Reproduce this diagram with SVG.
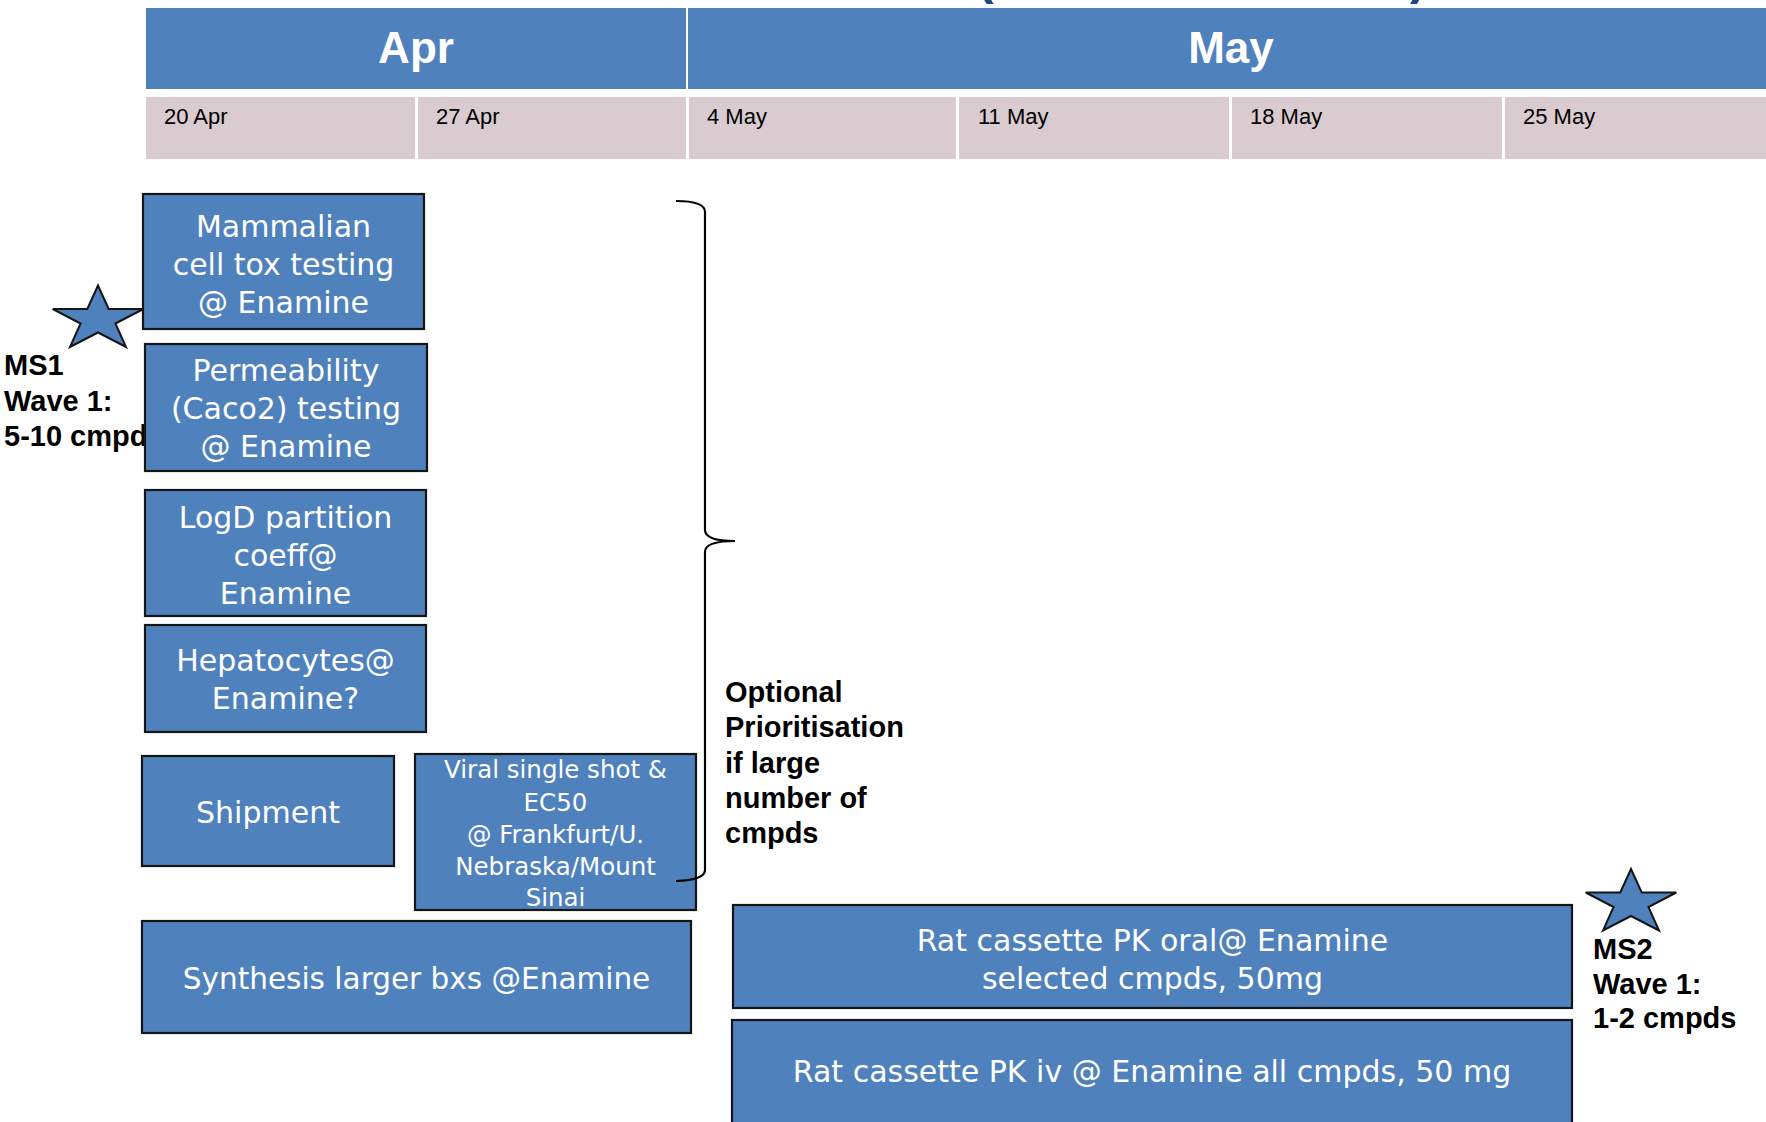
<svg xmlns="http://www.w3.org/2000/svg" width="1766" height="1122" viewBox="0 0 1766 1122">
  <style>
    .hdr { fill: #4F81BD; }
    .wk { fill: #DACBD0; }
    .month { font-family: "Liberation Sans", Arial, sans-serif; font-weight: bold; font-size: 44px; fill: #FFFFFF; text-anchor: middle; }
    .wkt { font-family: "Liberation Sans", Arial, sans-serif; font-size: 22px; fill: #000000; }
    .box { fill: #4F81BD; stroke: #151515; stroke-width: 2.2; }
    .bt { font-family: "DejaVu Sans", "Liberation Sans", sans-serif; font-size: 30px; fill: #FFFFFF; text-anchor: middle; }
    .bs { font-family: "DejaVu Sans", "Liberation Sans", sans-serif; font-size: 24.5px; fill: #FFFFFF; text-anchor: middle; }
    .lbl { font-family: "Liberation Sans", Arial, sans-serif; font-weight: bold; font-size: 29px; fill: #000000; }
    .star { fill: #4F81BD; stroke: #151515; stroke-width: 2; stroke-linejoin: miter; }
    .brace { fill: none; stroke: #000000; stroke-width: 2.2; }
    .title { font-family: "Liberation Sans", Arial, sans-serif; font-weight: bold; font-size: 50px; fill: #1F497D; }
  </style>
  <defs>
    <path id="starShape" d="M0,-34 L10.7,-10.5 L45.3,-10.5 L17.4,4 L28,27.5 L0,13 L-28,27.5 L-17.4,4 L-45.3,-10.5 L-10.7,-10.5 Z"/>
  </defs>
  <rect x="0" y="0" width="1766" height="1122" fill="#FFFFFF"/>

  <!-- cut-off title fragments (the title itself lies above the visible area) -->
  <text class="title" x="977" y="-6">(</text>
  <text class="title" x="1410" y="-6">)</text>

  <!-- timeline header -->
  <g id="header">
    <rect class="hdr" x="146" y="8" width="540" height="81"/>
    <rect class="hdr" x="688" y="8" width="1090" height="81"/>
    <text class="month" x="416" y="63">Apr</text>
    <text class="month" x="1231" y="63">May</text>
    <rect class="wk" x="146" y="97" width="269" height="62"/>
    <rect class="wk" x="418" y="97" width="268" height="62"/>
    <rect class="wk" x="689" y="97" width="267" height="62"/>
    <rect class="wk" x="959" y="97" width="270" height="62"/>
    <rect class="wk" x="1232" y="97" width="270" height="62"/>
    <rect class="wk" x="1505" y="97" width="270" height="62"/>
    <text class="wkt" x="164" y="124">20 Apr</text>
    <text class="wkt" x="436" y="124">27 Apr</text>
    <text class="wkt" x="707" y="124">4 May</text>
    <text class="wkt" x="978" y="124">11 May</text>
    <text class="wkt" x="1250" y="124">18 May</text>
    <text class="wkt" x="1523" y="124">25 May</text>
  </g>

  <!-- milestone 1 -->
  <g id="ms1">
    <text class="lbl" x="4" y="375">MS1</text>
    <text class="lbl" x="4" y="411">Wave 1:</text>
    <text class="lbl" x="4" y="446">5-10 cmpd</text>
    <use href="#starShape" class="star" transform="translate(98,319.5)"/>
  </g>

  <g id="mammalian">
    <rect class="box" x="143" y="194" width="281" height="135"/>
    <text class="bt" x="283.5" y="237">Mammalian</text>
    <text class="bt" x="283.5" y="275">cell tox testing</text>
    <text class="bt" x="283.5" y="313">@ Enamine</text>
  </g>

  <g id="permeability">
    <rect class="box" x="145" y="344" width="282" height="127"/>
    <text class="bt" x="286" y="381">Permeability</text>
    <text class="bt" x="286" y="419">(Caco2) testing</text>
    <text class="bt" x="286" y="457">@ Enamine</text>
  </g>

  <g id="logd">
    <rect class="box" x="145" y="490" width="281" height="126"/>
    <text class="bt" x="285.5" y="528">LogD partition</text>
    <text class="bt" x="285.5" y="566">coeff@</text>
    <text class="bt" x="285.5" y="604">Enamine</text>
  </g>

  <g id="hepatocytes">
    <rect class="box" x="145" y="625" width="281" height="107"/>
    <text class="bt" x="285.5" y="671">Hepatocytes@</text>
    <text class="bt" x="285.5" y="709">Enamine?</text>
  </g>

  <g id="shipment">
    <rect class="box" x="142" y="756" width="252" height="110"/>
    <text class="bt" x="268" y="823">Shipment</text>
  </g>

  <g id="viral">
    <rect class="box" x="415" y="754" width="281" height="156"/>
    <text class="bs" x="555.5" y="778">Viral single shot &amp;</text>
    <text class="bs" x="555.5" y="811">EC50</text>
    <text class="bs" x="555.5" y="843">@ Frankfurt/U.</text>
    <text class="bs" x="555.5" y="875">Nebraska/Mount</text>
    <text class="bs" x="555.5" y="906">Sinai</text>
  </g>

  <g id="synthesis">
    <rect class="box" x="142" y="921" width="549" height="112"/>
    <text class="bt" x="416.5" y="989" style="font-size:29.5px">Synthesis larger bxs @Enamine</text>
  </g>

  <!-- bracket -->
  <g id="connectors">
    <path class="brace" d="M676,201 Q705,201 705,212 L705,530 Q705,541 735,541 Q705,541 705,552 L705,870 Q705,880 676,881"/>
  </g>

  <g id="optional-note">
    <text class="lbl" x="725" y="702">Optional</text>
    <text class="lbl" x="725" y="737">Prioritisation</text>
    <text class="lbl" x="725" y="773">if large</text>
    <text class="lbl" x="725" y="808">number of</text>
    <text class="lbl" x="725" y="843">cmpds</text>
  </g>

  <g id="rat-oral">
    <rect class="box" x="733" y="905" width="839" height="103"/>
    <text class="bt" x="1152.5" y="951">Rat cassette PK oral@ Enamine</text>
    <text class="bt" x="1152.5" y="989">selected cmpds, 50mg</text>
  </g>

  <g id="rat-iv">
    <rect class="box" x="732" y="1020" width="840" height="120"/>
    <text class="bt" x="1152" y="1082">Rat cassette PK iv @ Enamine all cmpds, 50 mg</text>
  </g>

  <!-- milestone 2 -->
  <g id="ms2">
    <use href="#starShape" class="star" transform="translate(1631,903)"/>
    <text class="lbl" x="1593" y="959">MS2</text>
    <text class="lbl" x="1593" y="994">Wave 1:</text>
    <text class="lbl" x="1593" y="1028">1-2 cmpds</text>
  </g>
</svg>
